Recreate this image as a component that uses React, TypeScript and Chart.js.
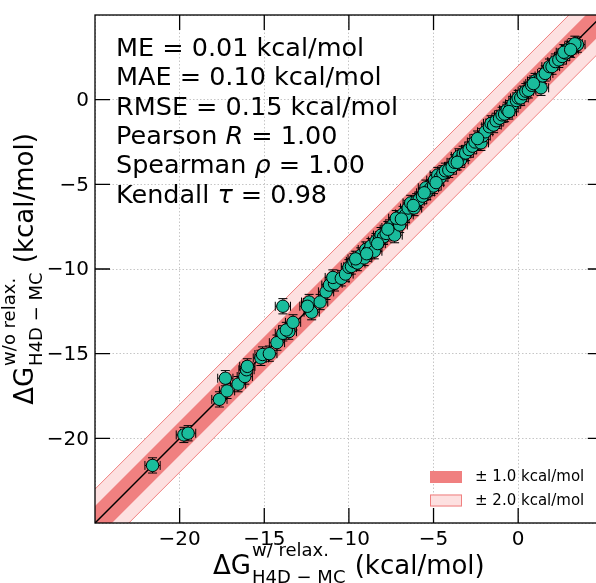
import React, { useEffect, useRef } from "react";
import { Chart, registerables } from "chart.js";

Chart.register(...registerables);

// ΔG with relaxation (x) and without relaxation (y), kcal/mol
const RELAXED = [
  -21.6, -19.75, -19.5, -17.65, -17.2, -17.3, -16.55, -16.15, -16.05, -16.0,
  -15.2, -15.1, -14.7, -14.25, -13.9, -13.55, -13.7, -13.3, -13.9, -12.35,
  -11.7, -12.2, -12.45, -11.35, -11.15, -10.85, -10.95, -10.45, -10.2, -10.0,
  -9.85, -9.7, -9.5, -9.3, -9.1, -9.0, -8.85, -8.7, -8.5, -8.4,
  -8.2, -8.1, -7.95, -7.8, -7.6, -7.4, -7.3, -7.1, -7.0, -6.8,
  -6.65, -6.5, -6.35, -6.15, -6.0, -5.85, -5.65, -5.45, -5.4, -5.15,
  -5.0, -4.95, -4.75, -4.6, -4.45, -4.3, -4.1, -3.9, -3.75, -3.5,
  -3.4, -3.25, -3.1, -2.9, -2.7, -2.55, -2.2, -2.1, -1.95, -1.7,
  -1.6, -1.45, -1.3, -1.1, -0.95, -0.8, -0.65, -0.45, -0.3, -0.1,
  0.0, 0.15, 0.3, 0.45, 0.6, 0.8, 1.0, 1.15, 1.35, 1.45,
  1.6, 1.85, 2.0, 2.2, 2.4, 2.6, 2.8, 3.0, 3.2, 3.5,
  3.35, -9.6, -8.95, -8.3, -7.7, -7.2, -6.9, -6.2, -5.55, -4.85,
  -3.6, -2.4, -0.55, 0.9, 2.7, 3.1,
];
const UNRELAXED = [
  -21.6, -19.8, -19.7, -17.7, -17.2, -16.45, -16.8, -16.35, -15.95, -15.75,
  -15.25, -15.05, -15.0, -14.35, -13.8, -13.7, -13.6, -13.15, -12.2, -11.95,
  -11.95, -12.55, -12.2, -11.35, -10.95, -10.85, -10.5, -10.55, -10.3, -9.9,
  -9.85, -9.55, -9.65, -9.2, -9.35, -8.85, -8.95, -8.65, -8.95, -8.35,
  -8.25, -8.0, -8.1, -7.9, -7.55, -7.4, -8.0, -7.2, -7.4, -6.75,
  -6.8, -6.4, -6.1, -6.4, -6.0, -5.9, -5.7, -5.2, -5.45, -5.2,
  -5.1, -4.75, -4.45, -4.6, -4.35, -4.2, -4.15, -3.95, -3.7, -3.35,
  -3.55, -3.2, -3.15, -2.95, -2.75, -2.5, -2.55, -2.15, -1.9, -1.6,
  -1.4, -1.5, -1.25, -1.1, -0.9, -0.85, -0.6, -0.5, -0.25, -0.05,
  0.1, 0.1, 0.35, 0.5, 0.55, 0.85, 1.1, 1.05, 0.7, 1.4,
  1.55, 1.95, 1.95, 2.25, 2.35, 2.55, 2.75, 3.0, 3.15, 3.25,
  3.3, -9.4, -9.1, -8.5, -7.65, -7.0, -7.05, -6.25, -5.5, -4.9,
  -3.7, -2.3, -0.7, 0.95, 2.8, 2.95,
];
const X_ERR = 0.45;
const Y_ERR = 0.45;

const AXIS_MIN = -25;
const AXIS_MAX = 5;
const TICK_VALUES = [-20, -15, -10, -5, 0];
const TICK_LABELS = ["\u221220", "\u221215", "\u221210", "\u22125", "0"];
const BAND_INNER = 1.0;
const BAND_OUTER = 2.0;

const STAT_LINES = [
  [{ t: "ME = 0.01 kcal/mol" }],
  [{ t: "MAE = 0.10 kcal/mol" }],
  [{ t: "RMSE = 0.15 kcal/mol" }],
  [{ t: "Pearson " }, { t: "R", i: true }, { t: " = 1.00" }],
  [{ t: "Spearman " }, { t: "\u03c1", i: true }, { t: " = 1.00" }],
  [{ t: "Kendall " }, { t: "\u03c4", i: true }, { t: " = 0.98" }],
];
const LEGEND_LABELS = ["\u00b1 1.0 kcal/mol", "\u00b1 2.0 kcal/mol"];
const X_LABEL = { main: "\u0394G", sup: "w/ relax.", sub: "H4D \u2212 MC", unit: " (kcal/mol)" };
const Y_LABEL = { main: "\u0394G", sup: "w/o relax.", sub: "H4D \u2212 MC", unit: " (kcal/mol)" };

const FONT = "'DejaVu Sans', sans-serif";
const TEAL = "#1abc9c";
const CORAL = "#f08080";
const PINK = "#fde0e0";

function drawLabel(ctx: CanvasRenderingContext2D, cx: number, base: number, lab: any) {
  const MAIN = 26, SCRIPT = 18;
  ctx.font = `${MAIN}px ${FONT}`;
  const wMain = ctx.measureText(lab.main).width;
  const wUnit = ctx.measureText(lab.unit).width;
  ctx.font = `${SCRIPT}px ${FONT}`;
  const wSup = ctx.measureText(lab.sup).width;
  const wSub = ctx.measureText(lab.sub).width;
  const wScr = Math.max(wSup, wSub) + 2;
  const total = wMain + wScr + wUnit;
  let x0 = cx - total / 2;
  ctx.textAlign = "left";
  ctx.textBaseline = "alphabetic";
  ctx.fillStyle = "#000";
  ctx.font = `${MAIN}px ${FONT}`;
  ctx.fillText(lab.main, x0, base);
  ctx.font = `${SCRIPT}px ${FONT}`;
  ctx.fillText(lab.sup, x0 + wMain + 1, base - 18);
  ctx.fillText(lab.sub, x0 + wMain + 1, base + 9);
  ctx.font = `${MAIN}px ${FONT}`;
  ctx.fillText(lab.unit, x0 + wMain + wScr, base);
}

const overlay = {
  id: "overlay",
  beforeDatasetDraw(chart: any, args: any) {
    if (args.index !== 0) return;
    const { ctx, scales } = chart;
    const xs = scales.x, ys = scales.y;
    const cap = 4.5;
    ctx.save();
    ctx.strokeStyle = "#000";
    ctx.lineWidth = 1;
    for (let i = 0; i < RELAXED.length; i++) {
      const px = xs.getPixelForValue(RELAXED[i]);
      const py = ys.getPixelForValue(UNRELAXED[i]);
      const x0 = xs.getPixelForValue(RELAXED[i] - X_ERR);
      const x1 = xs.getPixelForValue(RELAXED[i] + X_ERR);
      const y0 = ys.getPixelForValue(UNRELAXED[i] - Y_ERR);
      const y1 = ys.getPixelForValue(UNRELAXED[i] + Y_ERR);
      ctx.beginPath();
      ctx.moveTo(x0, py); ctx.lineTo(x1, py);
      ctx.moveTo(x0, py - cap); ctx.lineTo(x0, py + cap);
      ctx.moveTo(x1, py - cap); ctx.lineTo(x1, py + cap);
      ctx.moveTo(px, y0); ctx.lineTo(px, y1);
      ctx.moveTo(px - cap, y0); ctx.lineTo(px + cap, y0);
      ctx.moveTo(px - cap, y1); ctx.lineTo(px + cap, y1);
      ctx.stroke();
    }
    ctx.restore();
  },
  afterDraw(chart: any) {
    const { ctx, chartArea: a, scales } = chart;
    const xs = scales.x, ys = scales.y;
    ctx.save();
    // frame
    ctx.strokeStyle = "#000";
    ctx.lineWidth = 1.3;
    ctx.strokeRect(a.left, a.top, a.right - a.left, a.bottom - a.top);
    // inward ticks on all sides
    const TL = 15;
    ctx.beginPath();
    TICK_VALUES.forEach((v) => {
      const px = xs.getPixelForValue(v);
      ctx.moveTo(px, a.bottom); ctx.lineTo(px, a.bottom - TL);
      ctx.moveTo(px, a.top); ctx.lineTo(px, a.top + TL);
      const py = ys.getPixelForValue(v);
      ctx.moveTo(a.left, py); ctx.lineTo(a.left + TL, py);
      ctx.moveTo(a.right, py); ctx.lineTo(a.right - TL, py);
    });
    ctx.stroke();
    // tick labels
    ctx.fillStyle = "#000";
    ctx.font = `20px ${FONT}`;
    ctx.textAlign = "center";
    ctx.textBaseline = "alphabetic";
    TICK_VALUES.forEach((v, i) => {
      ctx.fillText(TICK_LABELS[i], xs.getPixelForValue(v), a.bottom + 22);
    });
    ctx.textAlign = "right";
    ctx.textBaseline = "middle";
    TICK_VALUES.forEach((v, i) => {
      ctx.fillText(TICK_LABELS[i], a.left - 6, ys.getPixelForValue(v) + 1);
    });
    // stats text
    ctx.textAlign = "left";
    ctx.textBaseline = "alphabetic";
    STAT_LINES.forEach((line, li) => {
      let x = a.left + 21;
      const y = a.top + 41 + li * 29.3;
      line.forEach((seg: any) => {
        ctx.font = `${seg.i ? "italic " : ""}25.5px ${FONT}`;
        ctx.fillText(seg.t, x, y);
        x += ctx.measureText(seg.t).width;
      });
    });
    // legend
    const lx = a.left + 335;
    const ly = a.bottom - 52;
    ctx.fillStyle = CORAL;
    ctx.fillRect(lx, ly, 32, 12);
    ctx.fillStyle = PINK;
    ctx.fillRect(lx, ly + 23.5, 32, 12);
    ctx.strokeStyle = CORAL;
    ctx.lineWidth = 1;
    ctx.strokeRect(lx + 0.5, ly + 24, 31, 11);
    ctx.fillStyle = "#000";
    ctx.font = `15px ${FONT}`;
    ctx.textBaseline = "middle";
    ctx.fillText(LEGEND_LABELS[0], lx + 45, ly + 6.5);
    ctx.fillText(LEGEND_LABELS[1], lx + 45, ly + 30);
    // axis labels
    const cx = (a.left + a.right) / 2;
    const cy = (a.top + a.bottom) / 2;
    drawLabel(ctx, cx, a.bottom + 51, X_LABEL);
    ctx.save();
    ctx.translate(33, cy);
    ctx.rotate(-Math.PI / 2);
    drawLabel(ctx, 0, 0, Y_LABEL);
    ctx.restore();
    ctx.restore();
  },
};

function line(x0: number, x1: number, off: number) {
  return [
    { x: x0, y: x0 + off },
    { x: x1, y: x1 + off },
  ];
}

export default function App() {
  const ref = useRef<HTMLCanvasElement>(null);
  useEffect(() => {
    const points = RELAXED.map((x, i) => ({ x, y: UNRELAXED[i] }));
    const base = { showLine: true, pointRadius: 0, pointHoverRadius: 0, tension: 0 };
    const chart = new Chart(ref.current as HTMLCanvasElement, {
      type: "scatter",
      data: {
        datasets: [
          {
            data: points,
            backgroundColor: TEAL,
            borderColor: "#000",
            borderWidth: 1,
            pointRadius: 6.2,
            order: 0,
          },
          { ...base, data: line(AXIS_MIN, AXIS_MAX, 0), borderColor: "#000", borderWidth: 1.5, order: 1 },
          { ...base, data: line(AXIS_MIN, AXIS_MAX, BAND_INNER), borderWidth: 0, borderColor: "rgba(0,0,0,0)", order: 3 },
          { ...base, data: line(AXIS_MIN, AXIS_MAX, -BAND_INNER), borderWidth: 0, borderColor: "rgba(0,0,0,0)", backgroundColor: CORAL, fill: 2, order: 3 },
          { ...base, data: line(AXIS_MIN, AXIS_MAX, BAND_OUTER), borderWidth: 1, borderColor: CORAL, order: 4 },
          { ...base, data: line(AXIS_MIN, AXIS_MAX, -BAND_OUTER), borderWidth: 1, borderColor: CORAL, backgroundColor: PINK, fill: 4, order: 4 },
        ] as any,
      },
      options: {
        animation: false,
        responsive: false,
        maintainAspectRatio: false,
        devicePixelRatio: 1,
        events: [],
        layout: { padding: { left: 95, top: 15, right: 6, bottom: 60 } },
        plugins: { legend: { display: false }, tooltip: { enabled: false } },
        scales: {
          x: {
            type: "linear",
            min: AXIS_MIN,
            max: AXIS_MAX,
            ticks: { display: false, stepSize: 5 },
            grid: { color: "#b8b8b8", lineWidth: 0.8, drawTicks: false },
            border: { display: false, dash: [1.5, 2] },
          },
          y: {
            type: "linear",
            min: AXIS_MIN,
            max: AXIS_MAX,
            ticks: { display: false, stepSize: 5 },
            grid: { color: "#b8b8b8", lineWidth: 0.8, drawTicks: false },
            border: { display: false, dash: [1.5, 2] },
          },
        },
      } as any,
      plugins: [overlay],
    });
    return () => chart.destroy();
  }, []);
  return (
    <div style={{ position: "fixed", left: 0, top: 0, width: 596, height: 583, overflow: "hidden", background: "#fff" }}>
      <canvas ref={ref} width={610} height={583} style={{ display: "block", width: 610, height: 583 }} />
    </div>
  );
}
